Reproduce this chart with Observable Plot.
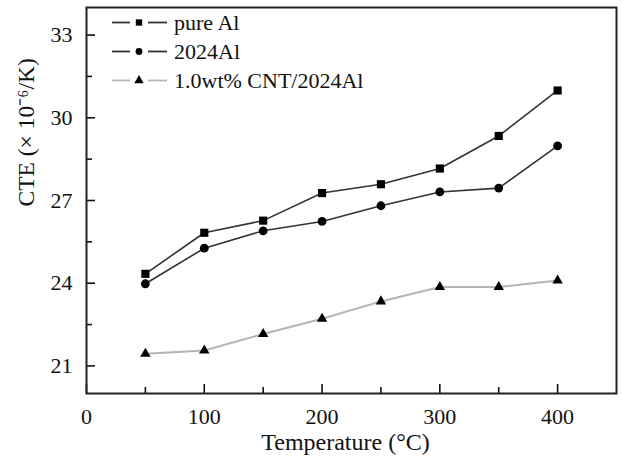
<!DOCTYPE html>
<html><head><meta charset="utf-8">
<script src="https://cdn.jsdelivr.net/npm/d3@7"></script>
<script src="https://cdn.jsdelivr.net/npm/@observablehq/plot@0.6"></script>
<style>body{margin:0;background:#fff}</style>
</head><body><div id="chart"></div>
<script>
const temperatures = [50, 100, 150, 200, 250, 300, 350, 400];
const pureAl = [24.34, 25.83, 26.27, 27.27, 27.59, 28.16, 29.34, 30.99];
const al2024 = [23.98, 25.27, 25.90, 26.24, 26.81, 27.31, 27.45, 28.98];
const cntAl = [21.44, 21.56, 22.16, 22.71, 23.34, 23.86, 23.86, 24.10];
const seriesNames = ["pure Al", "2024Al", "1.0wt% CNT/2024Al"];
const seriesSymbols = ["square", "circle", "triangle"];
const seriesLineColors = ["#333", "#333", "#b5b5b5"];
const xTicks = [0, 100, 200, 300, 400];
const xMinorTicks = [50, 150, 250, 350];
const yTicks = [21, 24, 27, 30, 33];
const yMinorTicks = [22.5, 25.5, 28.5, 31.5];
const xLabel = "Temperature (°C)";
const yLabel = "CTE (× 10⁻⁶/K)";

const seriesValues = [pureAl, al2024, cntAl];
const data = seriesValues.flatMap((vals, s) =>
  vals.map((v, i) => ({series: seriesNames[s], t: temperatures[i], cte: v})));

const W = 623, H = 459, mL = 86, mR = 7, mT = 7, mB = 66;
const frameW = W - mL - mR, frameH = H - mT - mB;

const marks = [];
seriesNames.forEach((name, s) => {
  const d = data.filter(r => r.series === name);
  marks.push(Plot.line(d, {x: "t", y: "cte", stroke: seriesLineColors[s], strokeWidth: s === 2 ? 2 : 1.6}));
  marks.push(Plot.dot(d, {x: "t", y: "cte", symbol: () => seriesSymbols[s], fill: "#000", stroke: "none",
    r: s === 0 ? 4.6 : s === 1 ? 4.4 : 3.9}));
});

const tickStroke = {stroke: "#111", strokeWidth: 1.6};
const font = "'Liberation Serif', 'Times New Roman', serif";
const plot = Plot.plot({
  width: W, height: H,
  marginLeft: mL, marginRight: mR, marginTop: mT, marginBottom: mB,
  style: {fontFamily: font, fontSize: "22px", color: "#111", background: "#fff"},
  x: {domain: [0, 450]},
  y: {domain: [20, 34]},
  marks: [
    Plot.axisX(xTicks, {tickSize: 0, tickPadding: 15, fontSize: 22, label: null}),
    Plot.axisY(yTicks, {tickSize: 0, tickPadding: 14, fontSize: 22, label: null}),
    // inward ticks
    Plot.ruleX(xTicks, {x: d => d, insetTop: frameH - 9, ...tickStroke}),
    Plot.ruleX(xMinorTicks, {x: d => d, insetTop: frameH - 6, ...tickStroke}),
    Plot.ruleY(yTicks, {y: d => d, insetRight: frameW - 9, ...tickStroke}),
    Plot.ruleY(yMinorTicks, {y: d => d, insetRight: frameW - 6, ...tickStroke}),
    Plot.text([xLabel], {frameAnchor: "bottom", dx: -6, dy: 56, fontSize: 24, fill: "#111"}),
    Plot.text([yLabel], {frameAnchor: "left", dx: -60, dy: 6, rotate: -90, fontSize: 23.5, fill: "#111"}),
    ...marks,
    Plot.frame({stroke: "#222", strokeWidth: 2})
  ]
});

// legend inside the frame (top-left)
const svg = d3.select(plot);
const lg = svg.append("g")
  .style("font-family", font).style("font-size", "22px").attr("text-anchor", "start");
seriesNames.forEach((name, i) => {
  const y = 22.5 + i * 29;
  const g = lg.append("g");
  g.append("line").attr("x1", 112).attr("x2", 130).attr("y1", y).attr("y2", y)
    .attr("stroke", seriesLineColors[i]).attr("stroke-width", 1.8);
  g.append("line").attr("x1", 148).attr("x2", 167).attr("y1", y).attr("y2", y)
    .attr("stroke", seriesLineColors[i]).attr("stroke-width", 1.8);
  const sym = {square: d3.symbolSquare, circle: d3.symbolCircle, triangle: d3.symbolTriangle}[seriesSymbols[i]];
  g.append("path").attr("d", d3.symbol(sym, i === 0 ? 40 : i === 1 ? 36 : 38)())
    .attr("transform", `translate(139,${y})`).attr("fill", "#000");
  g.append("text").attr("x", 174).attr("y", y).attr("dy", "0.32em")
    .attr("text-anchor", "start").attr("fill", "#111").text(name);
});

document.getElementById("chart").appendChild(plot);
</script>
</body></html>
